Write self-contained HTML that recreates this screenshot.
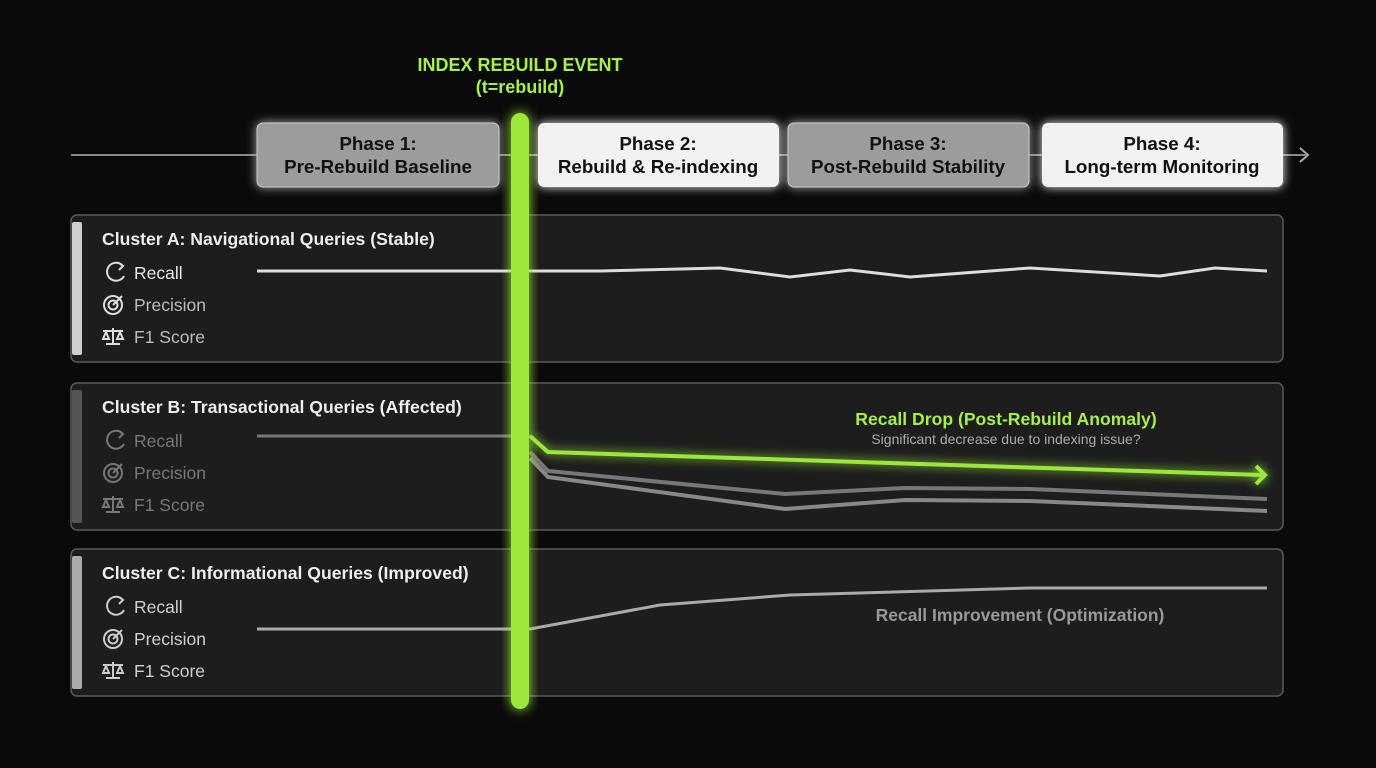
<!DOCTYPE html>
<html><head><meta charset="utf-8"><style>
html,body{margin:0;padding:0;background:#0a0a0a;}
svg{display:block;font-family:"Liberation Sans",sans-serif;}
</style></head><body>
<svg width="1376" height="768" viewBox="0 0 1376 768" xmlns="http://www.w3.org/2000/svg">
<defs>
<filter id="g" x="-50%" y="-20%" width="200%" height="140%"><feGaussianBlur stdDeviation="6" result="b"/><feMerge><feMergeNode in="b"/><feMergeNode in="SourceGraphic"/></feMerge></filter>
<filter id="g2" x="-20%" y="-50%" width="140%" height="200%"><feGaussianBlur stdDeviation="5" result="b"/><feMerge><feMergeNode in="b"/><feMergeNode in="SourceGraphic"/></feMerge></filter>
</defs>
<rect width="1376" height="768" fill="#0a0a0a"/>
<text x="520" y="71" fill="#a6f04a" font-size="18" font-weight="bold" text-anchor="middle">INDEX REBUILD EVENT</text>
<text x="520" y="93" fill="#a6f04a" font-size="18" font-weight="bold" text-anchor="middle">(t=rebuild)</text>
<line x1="71" y1="155" x2="1306" y2="155" stroke="#888" stroke-width="2"/>
<path d="M1300 148 L1308 155 L1300 162" fill="none" stroke="#aaa" stroke-width="2"/>
<g filter="url(#g2)">
<rect x="257" y="123" width="242" height="64" rx="6" fill="#9c9c9c" stroke="#ccc"/>
<rect x="538" y="123" width="241" height="64" rx="6" fill="#f2f2f2"/>
<rect x="788" y="123" width="241" height="64" rx="6" fill="#9c9c9c" stroke="#ccc"/>
<rect x="1042" y="123" width="241" height="64" rx="6" fill="#f2f2f2"/>
</g>
<g font-size="18.8" font-weight="bold" fill="#111" text-anchor="middle">
<text x="378" y="150">Phase 1:</text><text x="378" y="173">Pre-Rebuild Baseline</text>
<text x="658" y="150">Phase 2:</text><text x="658" y="173">Rebuild &amp; Re-indexing</text>
<text x="908" y="150">Phase 3:</text><text x="908" y="173">Post-Rebuild Stability</text>
<text x="1162" y="150">Phase 4:</text><text x="1162" y="173">Long-term Monitoring</text>
</g>
<g stroke="#5a5a5a" stroke-width="1.5" fill="#1d1d1d">
<rect x="71" y="215" width="1212" height="147" rx="6"/>
<rect x="71" y="383" width="1212" height="147" rx="6"/>
<rect x="71" y="549" width="1212" height="147" rx="6"/>
</g>
<rect x="72" y="222" width="10" height="133" rx="2" fill="#cfcfcf"/>
<rect x="72" y="390" width="10" height="133" rx="2" fill="#555"/>
<rect x="72" y="556" width="10" height="133" rx="2" fill="#aaa"/>
<g font-size="17.6" font-weight="bold" fill="#eee">
<text x="102" y="245">Cluster A: Navigational Queries (Stable)</text>
<text x="102" y="413">Cluster B: Transactional Queries (Affected)</text>
<text x="102" y="579">Cluster C: Informational Queries (Improved)</text>
</g>
<g font-size="17.5">
<g fill="#e6e6e6"><text x="134" y="279">Recall</text><text x="134" y="311" fill="#bbb">Precision</text><text x="134" y="343" fill="#bbb">F1 Score</text></g>
<g fill="#777"><text x="134" y="447">Recall</text><text x="134" y="479">Precision</text><text x="134" y="511">F1 Score</text></g>
<g fill="#cfcfcf"><text x="134" y="613">Recall</text><text x="134" y="645">Precision</text><text x="134" y="677">F1 Score</text></g>
</g>
<g fill="none" stroke-width="2">
<g stroke="#ddd"><path d="M122 265 A9 9 0 1 0 124 276"/><path d="M119 263 L123 266 L119 270"/>
<circle cx="113" cy="305" r="9"/><circle cx="113" cy="305" r="4.5"/><path d="M113 305 L122 296"/>
<path d="M103 331 L123 331 M113 328 L113 344 M106 344 L120 344 M103 339 L106 332 L109 339 Z M117 339 L120 332 L123 339 Z"/></g>
<g stroke="#777"><path d="M122 433 A9 9 0 1 0 124 444"/><path d="M119 431 L123 434 L119 438"/>
<circle cx="113" cy="473" r="9"/><circle cx="113" cy="473" r="4.5"/><path d="M113 473 L122 464"/>
<path d="M103 499 L123 499 M113 496 L113 512 M106 512 L120 512 M103 507 L106 500 L109 507 Z M117 507 L120 500 L123 507 Z"/></g>
<g stroke="#ccc"><path d="M122 599 A9 9 0 1 0 124 610"/><path d="M119 597 L123 600 L119 604"/>
<circle cx="113" cy="639" r="9"/><circle cx="113" cy="639" r="4.5"/><path d="M113 639 L122 630"/>
<path d="M103 665 L123 665 M113 662 L113 678 M106 678 L120 678 M103 673 L106 666 L109 673 Z M117 673 L120 666 L123 673 Z"/></g>
</g>
<polyline points="257,271 440,271 600,271 720,268 790,277 850,270 910,277 1030,268 1160,276 1215,268 1267,271" fill="none" stroke="#ddd" stroke-width="3"/>
<polyline points="257,436 530,436" fill="none" stroke="#777" stroke-width="3"/>
<polyline points="530,452 548,471 785,494 905,488 1030,489 1267,499" fill="none" stroke="#777" stroke-width="4"/>
<polyline points="530,458 548,477 785,509 905,500 1030,501 1267,511" fill="none" stroke="#888" stroke-width="4"/>
<g filter="url(#g2)"><polyline points="530,436 548,452 1262,475" fill="none" stroke="#9be83a" stroke-width="4"/>
<path d="M1256 466 L1265 475 L1256 484" fill="none" stroke="#9be83a" stroke-width="4"/></g>
<polyline points="257,629 530,629 660,605 790,595 1030,588 1267,588" fill="none" stroke="#aaa" stroke-width="3"/>
<text x="1006" y="425" fill="#a6f04a" font-size="17.6" font-weight="bold" text-anchor="middle">Recall Drop (Post-Rebuild Anomaly)</text>
<text x="1006" y="444" fill="#aaa" font-size="14" text-anchor="middle">Significant decrease due to indexing issue?</text>
<text x="1020" y="621" fill="#999" font-size="17.5" font-weight="bold" text-anchor="middle">Recall Improvement (Optimization)</text>
<rect x="511" y="113" width="18" height="596" rx="9" fill="#9be83a" filter="url(#g)"/>
</svg>
</body></html>
